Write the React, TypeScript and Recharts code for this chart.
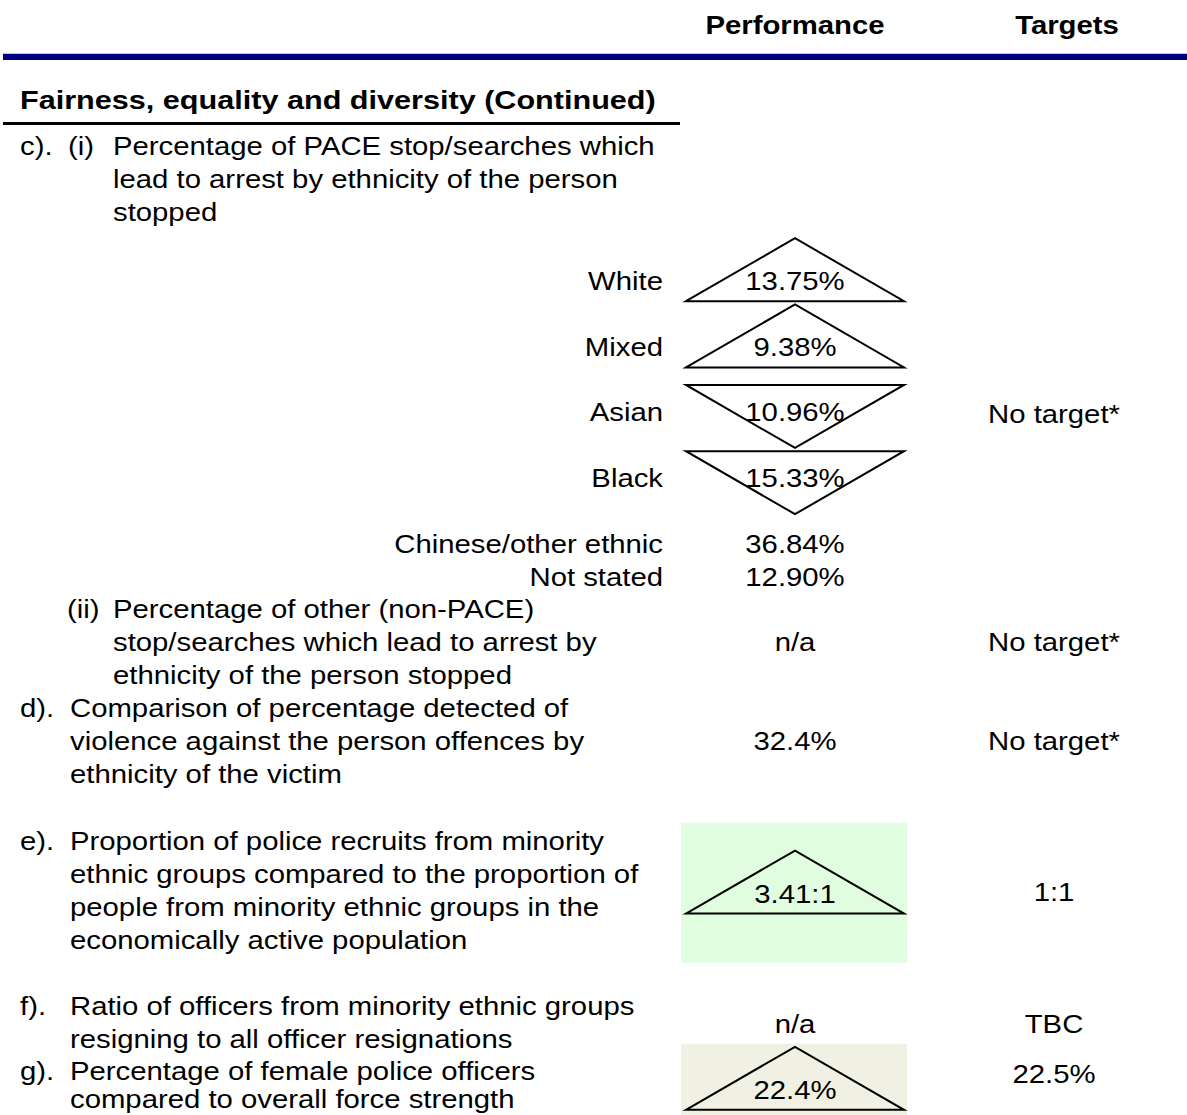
import React from 'react';
import { ScatterChart, Scatter, XAxis, YAxis, ReferenceArea } from 'recharts';

// ---------------- data ----------------
const columnHeaders = ['Performance', 'Targets'];
const sectionTitle = 'Fairness, equality and diversity (Continued)';

const ethnicGroups = ['White', 'Mixed', 'Asian', 'Black', 'Chinese/other ethnic', 'Not stated'];
const ethnicArrestRates = [13.75, 9.38, 10.96, 15.33, 36.84, 12.9];
const ethnicTrend = ['up', 'up', 'down', 'down', 'none', 'none'];

const indicatorCodes = ['c).', '', 'd).', 'e).', 'f).', 'g).'];
const indicatorSubCodes = ['(i)', '(ii)', '', '', '', ''];
const indicatorLines = [
  ['Percentage of PACE stop/searches which', 'lead to arrest by ethnicity of the person', 'stopped'],
  ['Percentage of other (non-PACE)', 'stop/searches which lead to arrest by', 'ethnicity of the person stopped'],
  ['Comparison of percentage detected of', 'violence against the person offences by', 'ethnicity of the victim'],
  [
    'Proportion of police recruits from minority',
    'ethnic groups compared to the proportion of',
    'people from minority ethnic groups in the',
    'economically active population',
  ],
  ['Ratio of officers from minority ethnic groups', 'resigning to all officer resignations'],
  ['Percentage of female police officers', 'compared to overall force strength'],
];
const indicatorPerformance = ['', 'n/a', '32.4%', '3.41:1', 'n/a', '22.4%'];
const indicatorTrend = ['none', 'none', 'none', 'up', 'none', 'up'];
const indicatorStatus = ['none', 'none', 'none', 'better', 'none', 'close'];
const indicatorTargets = ['No target*', 'No target*', 'No target*', '1:1', 'TBC', '22.5%'];

// ---------------- layout (positions / styles) ----------------
const W = 1187;
const H = 1115;
const ROW0 = 147.5; // px of text line 0
const PITCH = 33.1; // px per text line
const Y_DOMAIN = [-ROW0 / PITCH, (H - ROW0) / PITCH];

const X = {
  code: 20,
  sub: 68,
  bodyIndented: 113,
  body: 70,
  label: 663,
  perf: 795,
  target: 1054,
  targetHeader: 1067,
  boxLeft: 681,
  boxRight: 907,
};
const HEADER_ROW = -3.64;
const TITLE_ROW = -1.375;
const NAVY_RULE = [-2.83, -2.64];
const BLACK_RULE = [-0.77, -0.68];

const indicatorStartRow = [0, 14, 17, 21, 26, 27.97];
const indicatorLineStep = [1, 1, 1, 1, 1, 0.84];
const indicatorPerfRow = [0, 15, 18, 22.6, 26.55, 28.53];
const indicatorTargetRow = [8.11, 15, 18, 22.55, 26.55, 28.05];
const indicatorBoxRows = [null, null, null, [20.4, 24.63], null, [27.08, 29.23]];
const ethnicRows = [4.1, 6.1, 8.05, 10.05, 12.04, 13.04];

const FONT = '"Liberation Sans", Arial, Helvetica, sans-serif';
const FONT_SIZE = 29.3;
const TITLE_SIZE = 30.6;
const Y_SQUEEZE = 0.87;
const BASELINE_OFFSET = 7; // px from line centre to baseline
const statusColors: Record<string, string> = { better: '#e0fde0', close: '#f0f0e3' };

// ---------------- build points ----------------
type TextPt = { x: number; y: number; text: string; anchor: string; bold?: boolean; size?: number };
const texts: TextPt[] = [];
texts.push({ x: X.perf, y: HEADER_ROW, text: columnHeaders[0], anchor: 'middle', bold: true });
texts.push({ x: X.targetHeader, y: HEADER_ROW, text: columnHeaders[1], anchor: 'middle', bold: true });
texts.push({ x: X.code, y: TITLE_ROW, text: sectionTitle, anchor: 'start', bold: true, size: TITLE_SIZE });

indicatorLines.forEach((lines, i) => {
  const r0 = indicatorStartRow[i];
  if (indicatorCodes[i]) texts.push({ x: X.code, y: r0, text: indicatorCodes[i], anchor: 'start' });
  if (indicatorSubCodes[i])
    texts.push({ x: i === 1 ? X.sub - 1 : X.sub, y: r0, text: indicatorSubCodes[i], anchor: 'start' });
  const bx = indicatorSubCodes[i] ? X.bodyIndented : X.body;
  lines.forEach((ln, k) => texts.push({ x: bx, y: r0 + k * indicatorLineStep[i], text: ln, anchor: 'start' }));
  if (indicatorPerformance[i])
    texts.push({ x: X.perf, y: indicatorPerfRow[i], text: indicatorPerformance[i], anchor: 'middle' });
  texts.push({ x: X.target, y: indicatorTargetRow[i], text: indicatorTargets[i], anchor: 'middle' });
});

ethnicGroups.forEach((g, i) => {
  texts.push({ x: X.label, y: ethnicRows[i], text: g, anchor: 'end' });
  texts.push({ x: X.perf, y: ethnicRows[i], text: ethnicArrestRates[i].toFixed(2) + '%', anchor: 'middle' });
});

type Marker = { x: number; y: number; dir: string };
const markers: Marker[] = [];
ethnicTrend.forEach((d, i) => {
  if (d !== 'none') markers.push({ x: X.perf, y: ethnicRows[i], dir: d });
});
indicatorTrend.forEach((d, i) => {
  if (d !== 'none') markers.push({ x: X.perf, y: indicatorPerfRow[i], dir: d });
});

const TextShape = (props: any) => {
  const { cx, cy, payload } = props;
  const size = payload.size || FONT_SIZE;
  return (
    <text
      transform={`translate(${cx},${cy + BASELINE_OFFSET}) scale(1,${Y_SQUEEZE})`}
      x={0}
      y={0}
      textAnchor={payload.anchor}
      fontFamily={FONT}
      fontSize={size}
      fontWeight={payload.bold ? 700 : 400}
      fill="#000"
    >
      {payload.text}
    </text>
  );
};

const TriangleShape = (props: any) => {
  const { cx, cy, payload } = props;
  const hw = 109;
  let d: string;
  if (payload.dir === 'up') {
    d = `M${cx - hw},${cy + 18} L${cx},${cy - 45} L${cx + hw},${cy + 18} Z`;
  } else {
    d = `M${cx - hw},${cy - 29} L${cx + hw},${cy - 29} L${cx},${cy + 34} Z`;
  }
  return <path d={d} fill="none" stroke="#000" strokeWidth={2} strokeLinejoin="miter" />;
};

export default function App() {
  return (
    <div style={{ position: 'absolute', left: 0, top: 0, background: '#fff' }}>
      <ScatterChart width={W} height={H} margin={{ top: 0, right: 0, bottom: 0, left: 0 }}>
        <XAxis type="number" dataKey="x" domain={[0, W]} hide allowDataOverflow />
        <YAxis type="number" dataKey="y" domain={Y_DOMAIN} reversed hide allowDataOverflow />
        {indicatorBoxRows.map((b, i) =>
          b ? (
            <ReferenceArea
              key={'box' + i}
              x1={X.boxLeft}
              x2={X.boxRight}
              y1={b[0]}
              y2={b[1]}
              fill={statusColors[indicatorStatus[i]]}
              fillOpacity={1}
              stroke="none"
              ifOverflow="visible"
            />
          ) : null
        )}
        <ReferenceArea x1={3} x2={W} y1={NAVY_RULE[0]} y2={NAVY_RULE[1]} fill="#000080" fillOpacity={1} stroke="none" ifOverflow="visible" />
        <ReferenceArea x1={3} x2={680} y1={BLACK_RULE[0]} y2={BLACK_RULE[1]} fill="#000" fillOpacity={1} stroke="none" ifOverflow="visible" />
        <Scatter data={markers} shape={TriangleShape} isAnimationActive={false} />
        <Scatter data={texts} shape={TextShape} isAnimationActive={false} />
      </ScatterChart>
    </div>
  );
}
